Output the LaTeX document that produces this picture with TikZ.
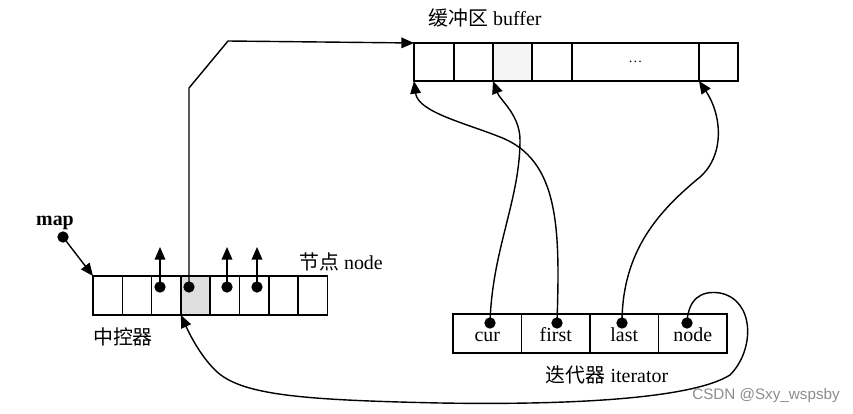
\documentclass[tikz,border=0pt]{standalone}
\usepackage{fontspec}
\setmainfont{Liberation Serif}
\setsansfont{Liberation Sans}
\newfontfamily\cjk{Noto Sans CJK SC}
\usetikzlibrary{arrows.meta}

\begin{document}
\begin{tikzpicture}[x=0.3mm, y=-0.3mm,
  font=\fontsize{17}{20}\selectfont,
  box/.style={draw, line width=1.3pt, inner sep=0pt, outer sep=0pt,
              minimum height=11.7mm},
  mcell/.style={box, minimum width=8.8mm},
  icell/.style={box, minimum width=20.55mm, text height=16pt, text depth=1.5pt},
  dot/.style={circle, fill=black, inner sep=0pt, minimum size=3.4mm},
  arw/.style={-{Triangle[length=3.8mm, width=3.2mm]}, line width=1.2pt},
  lbl/.style={inner sep=0pt}]
  \useasboundingbox (0,0) rectangle (853,414);
  % map (central controller)
  \foreach \i/\f in {1/white,2/white,3/white,4/black!13,5/white,6/white,7/white,8/white}
    \node[mcell, fill=\f] (m\i) at ({93+29.3*(\i-0.5)},295.5) {};
  % buffer
  \foreach \n/\cx/\w/\f in {b1/434/40/white, b2/473.5/39/white, b3/512.5/39/black!4,
                            b4/552/40/white, b5/635.5/127/white, b6/718.5/39/white}
    \node[box, minimum height=11.4mm, minimum width=\w*0.3mm, fill=\f] (\n) at (\cx,62) {};
  \node[lbl, font=\fontsize{12}{14}\selectfont] (bdots) at (b5) {\dots};
  % iterator
  \foreach \i/\t in {1/cur,2/first,3/last,4/node}
    \node[icell] (i\i) at ({453+68.5*(\i-0.5)},333.5) {\t};
  % labels
  \node[lbl] (buflbl) at (485,18) {{\cjk 缓冲区} buffer};
  \node[lbl] (maplbl) at (55,223) {\bfseries map};
  \node[lbl] (mlbl) at (123,337) {\cjk 中控器};
  \node[lbl] (nlbl) at (341,262) {{\cjk 节点} node};
  \node[lbl] (ilbl) at (607,375) {{\cjk 迭代器} iterator};
  \node[lbl, font=\sffamily\fontsize{13}{15}\selectfont, text=black!45] (csdn)
    at (766,396) {CSDN @Sxy\_wspsby};
  % pointers
  \node[dot] (dmap) at (63,237) {};
  \node[dot] (d3) at (160,287) {};
  \node[dot] (d4) at (189,287) {};
  \node[dot] (d5) at (227,287) {};
  \node[dot] (d6) at (257,287) {};
  \node[dot] (dcur) at (490,323) {};
  \node[dot] (dfirst) at (557,323) {};
  \node[dot] (dlast) at (622,323) {};
  \node[dot] (dnode) at (687,323) {};
  \coordinate (u3) at (160,247);
  \coordinate (u5) at (227,247);
  \coordinate (u6) at (257,247);
  \coordinate (bendA) at (189,88);
  \coordinate (bendB) at (228,41);
  \draw[arw] (dmap.center) -- (m1.north west);
  \draw[arw] (d3.center) -- (u3);
  \draw[arw] (d5.center) -- (u5);
  \draw[arw] (d6.center) -- (u6);
  \draw[arw] (d4.center) -- (bendA) -- (bendB) -- (b1.north west);
  \draw[arw] (dcur.center) .. controls (492,250) and (520,200) .. (520,140)
    .. controls (520,115) and (500,100) .. (b3.south west);
  \draw[arw] (dfirst.center) .. controls (560,230) and (560,160) .. (500,137)
    .. controls (465,123) and (418,112) .. (b1.south west);
  \draw[arw] (dlast.center) .. controls (622,250) and (660,210) .. (700,177)
    .. controls (725,155) and (722,115) .. (b6.south west);
  \draw[arw] (dnode.center) .. controls (688,300) and (700,290) .. (720,293)
    .. controls (755,300) and (755,350) .. (730,375)
    .. controls (690,400) and (560,405) .. (440,403)
    .. controls (300,400) and (240,395) .. (215,370)
    .. controls (200,355) and (190,335) .. (m4.south west);
\end{tikzpicture}
\end{document}
